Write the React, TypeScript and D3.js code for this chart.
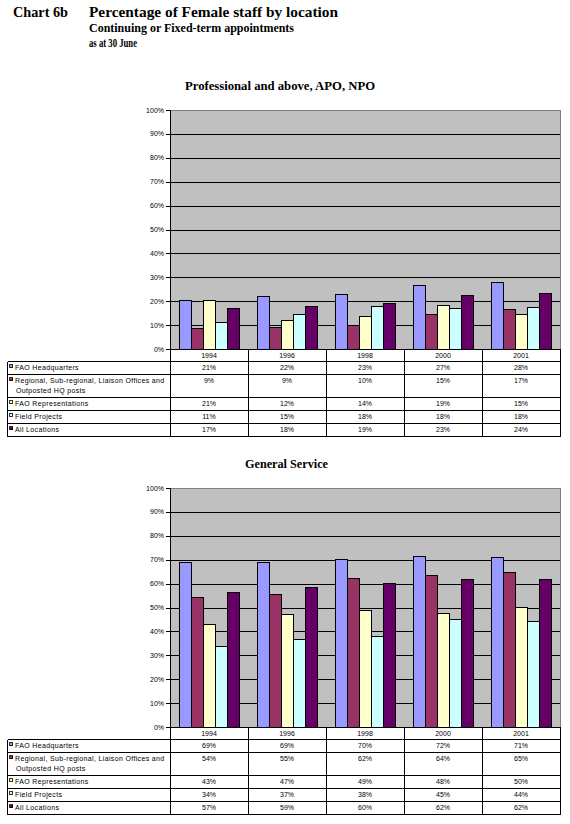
import { useEffect, useRef } from "react";
import { select, scaleBand, scaleLinear, range } from "d3";

const years = ["1994", "1996", "1998", "2000", "2001"];

const seriesLabels = [
    ["FAO Headquarters"],
    ["Regional, Sub-regional, Liaison Offices and", "Outposted HQ posts"],
    ["FAO Representations"],
    ["Field Projects"],
    ["All Locations"],
];

const seriesColors = ["#9999FF", "#993366", "#FFFFCC", "#CCFFFF", "#660066"];

// Professional and above, APO, NPO (bar heights)
const profHQ = [20.6, 22.2, 23.1, 26.9, 28.1];
const profRegional = [8.8, 9.4, 10.1, 14.7, 16.8];
const profRepr = [20.6, 12.2, 13.8, 18.5, 14.7];
const profField = [11.3, 14.7, 18.0, 17.2, 17.6];
const profAll = [17.2, 18.0, 19.3, 22.7, 23.5];

// table under the first chart, as printed
const profTableHQ = ["21%", "22%", "23%", "27%", "28%"];
const profTableRegional = ["9%", "9%", "10%", "15%", "17%"];
const profTableRepr = ["21%", "12%", "14%", "19%", "15%"];
const profTableField = ["11%", "15%", "18%", "18%", "18%"];
const profTableAll = ["17%", "18%", "19%", "23%", "24%"];

// General Service
const gsHQ = [69.0, 69.0, 70.2, 71.5, 71.0];
const gsRegional = [54.3, 55.5, 62.2, 63.5, 64.8];
const gsRepr = [42.9, 47.1, 48.8, 47.6, 50.1];
const gsField = [33.7, 36.9, 37.9, 45.0, 44.2];
const gsAll = [56.4, 58.5, 60.1, 61.8, 61.8];

const gsTableHQ = ["69%", "69%", "70%", "72%", "71%"];
const gsTableRegional = ["54%", "55%", "62%", "64%", "65%"];
const gsTableRepr = ["43%", "47%", "49%", "48%", "50%"];
const gsTableField = ["34%", "37%", "38%", "45%", "44%"];
const gsTableAll = ["57%", "59%", "60%", "62%", "62%"];

const yTicks = range(0, 101, 10);

const serif = "'Liberation Serif', 'Times New Roman', serif";
const sans = "'Liberation Sans', Arial, sans-serif";

function drawPanel(svg, opts) {
    const { top, title, titleX, titleW, series, table } = opts;
    const left = 170;
    const right = 560;
    const plotTop = top;
    const plotBottom = top + 239;
    const tableLeft = 7.5;

    const g = svg.append("g").attr("class", "panel");

    // title
    g.append("text")
        .attr("x", titleX)
        .attr("y", plotTop - 20)
        .attr("font-family", serif)
        .attr("font-weight", "bold")
        .attr("font-size", 13)
        .attr("textLength", titleW)
        .attr("lengthAdjust", "spacingAndGlyphs")
        .text(title);

    const xScale = scaleBand().domain(years).range([left, right]);
    const inner = scaleBand()
        .domain(range(series.length))
        .range([9, xScale.bandwidth() - 9]);
    const yScale = scaleLinear().domain([0, 100]).range([plotBottom, plotTop]);

    // plot area
    g.append("rect")
        .attr("x", left)
        .attr("y", plotTop)
        .attr("width", right - left)
        .attr("height", plotBottom - plotTop)
        .attr("fill", "#C0C0C0");

    // gridlines
    g.selectAll(".grid")
        .data(yTicks.filter((d) => d > 0 && d < 100))
        .join("line")
        .attr("x1", left)
        .attr("x2", right)
        .attr("y1", (d) => Math.round(yScale(d)) + 0.5)
        .attr("y2", (d) => Math.round(yScale(d)) + 0.5)
        .attr("stroke", "#000")
        .attr("stroke-width", 1);

    // border top and right
    g.append("path")
        .attr("d", `M${left},${plotTop + 0.5}H${right + 0.5}V${plotBottom}`)
        .attr("fill", "none")
        .attr("stroke", "#808080");

    // bars
    series.forEach((values, si) => {
        g.append("g")
            .selectAll("rect")
            .data(values)
            .join("rect")
            .attr("x", (d, i) => Math.round(xScale(years[i]) + inner(si)) + 0.5)
            .attr("y", (d) => Math.round(yScale(d)) + 0.5)
            .attr("width", Math.round(inner.bandwidth()))
            .attr("height", (d) => Math.round(plotBottom) - Math.round(yScale(d)))
            .attr("fill", seriesColors[si])
            .attr("stroke", "#000")
            .attr("stroke-width", 1);
    });

    // y axis
    g.append("line")
        .attr("x1", left + 0.5)
        .attr("x2", left + 0.5)
        .attr("y1", plotTop)
        .attr("y2", plotBottom)
        .attr("stroke", "#000");

    g.selectAll(".ytick")
        .data(yTicks)
        .join("line")
        .attr("x1", left - 4)
        .attr("x2", left)
        .attr("y1", (d) => Math.round(yScale(d)) + 0.5)
        .attr("y2", (d) => Math.round(yScale(d)) + 0.5)
        .attr("stroke", "#000");

    g.selectAll(".ylabel")
        .data(yTicks)
        .join("text")
        .attr("x", left - 6)
        .attr("y", (d) => yScale(d) + 2.5)
        .attr("text-anchor", "end")
        .attr("font-family", sans)
        .attr("font-size", 7)
        .text((d) => d + "%");

    // data table
    const edges = [0, 12, 25, 48, 61, 74, 87].map((d) => plotBottom + d);

    const lines = g.append("g").attr("stroke", "#000").attr("stroke-width", 1);

    // horizontal lines
    edges.forEach((y, i) => {
        lines
            .append("line")
            .attr("x1", i === 0 ? left : tableLeft)
            .attr("x2", right + 0.5)
            .attr("y1", Math.round(y) + 0.5)
            .attr("y2", Math.round(y) + 0.5);
    });

    // vertical lines
    lines
        .append("line")
        .attr("x1", tableLeft)
        .attr("x2", tableLeft)
        .attr("y1", Math.round(edges[1]) + 0.5)
        .attr("y2", Math.round(edges[6]) + 0.5);

    [...years.map((y) => xScale(y)), right].forEach((x) => {
        lines
            .append("line")
            .attr("x1", Math.round(x) + 0.5)
            .attr("x2", Math.round(x) + 0.5)
            .attr("y1", Math.round(edges[0]) + 0.5)
            .attr("y2", Math.round(edges[6]) + 0.5);
    });

    // year labels
    g.selectAll(".year")
        .data(years)
        .join("text")
        .attr("x", (d) => xScale(d) + xScale.bandwidth() / 2)
        .attr("y", edges[0] + 9)
        .attr("text-anchor", "middle")
        .attr("font-family", sans)
        .attr("font-size", 7)
        .text((d) => d);

    // rows
    table.forEach((row, si) => {
        const rowTop = edges[si + 1];
        const base = rowTop + 9;

        g.append("rect")
            .attr("x", 9.5)
            .attr("y", base - 5.5)
            .attr("width", 3)
            .attr("height", 3)
            .attr("fill", seriesColors[si])
            .attr("stroke", "#000")
            .attr("stroke-width", 0.8);

        seriesLabels[si].forEach((txt, li) => {
            g.append("text")
                .attr("x", li === 0 ? 15 : 16)
                .attr("y", base + li * 10)
                .attr("font-family", sans)
                .attr("font-size", 7)
                .attr("letter-spacing", 0.35)
                .text(txt);
        });

        g.append("g")
            .selectAll("text")
            .data(row)
            .join("text")
            .attr("x", (d, i) => xScale(years[i]) + xScale.bandwidth() / 2)
            .attr("y", base)
            .attr("text-anchor", "middle")
            .attr("font-family", sans)
            .attr("font-size", 7)
            .text((d) => d);
    });
}

export default function App() {
    const svgRef = useRef(null);

    useEffect(() => {
        const svg = select(svgRef.current);
        svg.selectAll("*").remove();

        // header
        svg.append("text")
            .attr("x", 13)
            .attr("y", 17)
            .attr("font-family", serif)
            .attr("font-weight", "bold")
            .attr("font-size", 15)
            .attr("textLength", 55)
            .attr("lengthAdjust", "spacingAndGlyphs")
            .text("Chart 6b");

        svg.append("text")
            .attr("x", 89)
            .attr("y", 17)
            .attr("font-family", serif)
            .attr("font-weight", "bold")
            .attr("font-size", 15)
            .attr("textLength", 249)
            .attr("lengthAdjust", "spacingAndGlyphs")
            .text("Percentage of Female staff by location");

        svg.append("text")
            .attr("x", 89)
            .attr("y", 32)
            .attr("font-family", serif)
            .attr("font-weight", "bold")
            .attr("font-size", 12)
            .attr("textLength", 205)
            .attr("lengthAdjust", "spacingAndGlyphs")
            .text("Continuing or Fixed-term appointments");

        svg.append("text")
            .attr("x", 89)
            .attr("y", 47)
            .attr("font-family", serif)
            .attr("font-weight", "bold")
            .attr("font-size", 12)
            .attr("textLength", 48)
            .attr("lengthAdjust", "spacingAndGlyphs")
            .text("as at 30 June");

        drawPanel(svg, {
            top: 110,
            title: "Professional and above, APO, NPO",
            titleX: 185,
            titleW: 190,
            series: [profHQ, profRegional, profRepr, profField, profAll],
            table: [profTableHQ, profTableRegional, profTableRepr, profTableField, profTableAll],
        });

        drawPanel(svg, {
            top: 488,
            title: "General Service",
            titleX: 245,
            titleW: 83,
            series: [gsHQ, gsRegional, gsRepr, gsField, gsAll],
            table: [gsTableHQ, gsTableRegional, gsTableRepr, gsTableField, gsTableAll],
        });
    }, []);

    return (
        <svg
            ref={svgRef}
            width={570}
            height={824}
            style={{ position: "absolute", left: 0, top: 0, background: "#fff" }}
            shapeRendering="crispEdges"
        ></svg>
    );
}
